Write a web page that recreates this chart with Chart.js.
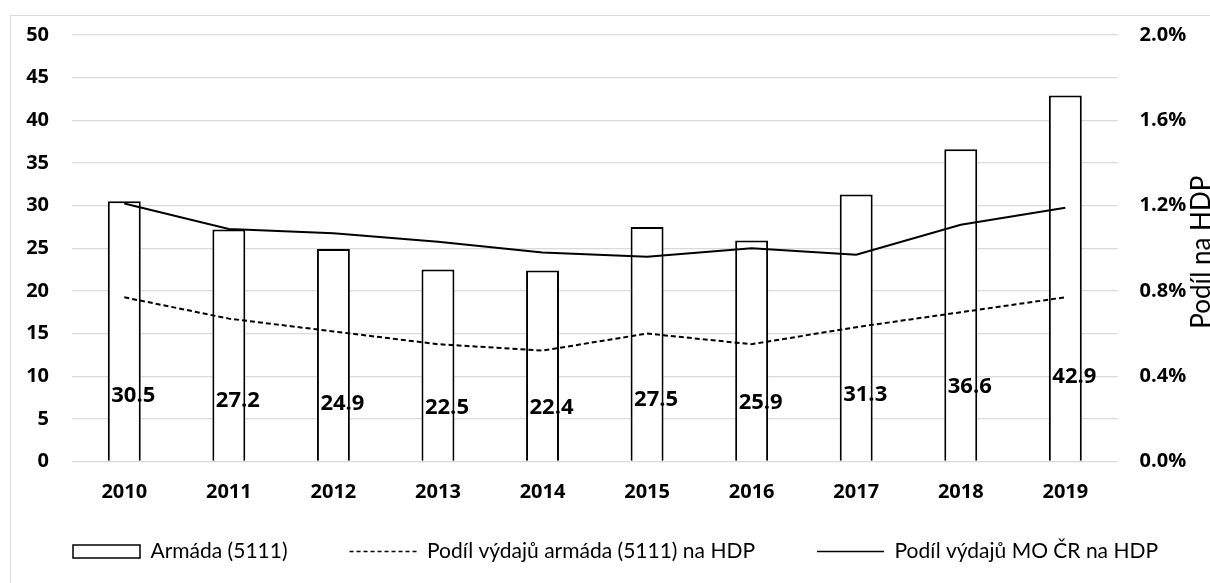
<!DOCTYPE html>
<html>
<head>
<meta charset="utf-8">
<script src="https://cdn.jsdelivr.net/npm/chart.js@4/dist/chart.umd.min.js"></script>
<style>
html,body{margin:0;padding:0;background:#fff;}
#wrap{position:relative;width:1210px;height:583px;overflow:hidden;}
canvas{display:block;}
</style>
</head>
<body>
<div id="wrap"><canvas id="c" width="1210" height="583"></canvas></div>
<script>
// ---- data ----
const years = ['2010','2011','2012','2013','2014','2015','2016','2017','2018','2019'];
const armada = [30.5, 27.2, 24.9, 22.5, 22.4, 27.5, 25.9, 31.3, 36.6, 42.9];
const podilArmada = [0.77, 0.67, 0.61, 0.55, 0.52, 0.60, 0.55, 0.63, 0.70, 0.77];
const podilMO = [1.21, 1.09, 1.07, 1.03, 0.98, 0.96, 1.00, 0.97, 1.11, 1.19];
const seriesNames = ['Armáda (5111)', 'Podíl výdajů armáda (5111) na HDP', 'Podíl výdajů MO ČR na HDP'];
const leftAxisRange = [0, 50, 5];
const rightAxisRange = [0, 2.0, 0.4];
const rightAxisTitle = 'Podíl na HDP';

const REG = 'Lato, "Open Sans", sans-serif';
const BOLD = '"Open Sans", Roboto, sans-serif';
Chart.defaults.font.family = REG;
Chart.defaults.color = '#000';
const boldFont = (size) => ({ family: BOLD, size: size, weight: 'bold' });

const frame = {
  id: 'frame',
  beforeDraw(chart) {
    const ctx = chart.ctx;
    ctx.save();
    ctx.strokeStyle = '#d9d9d9';
    ctx.lineWidth = 1;
    ctx.strokeRect(10.5, 15.5, 1400, 800);
    ctx.restore();
  }
};

// legend: fixed height in layout, then its box is enlarged so that
// the items (offset by the wide horizontal spacing) stay on one row, unclipped
const legendFix = {
  id: 'legendFix',
  afterInit(chart) {
    const lg = chart.legend;
    if (!lg) return;
    const orig = lg.fit.bind(lg);
    lg.fit = function() { orig(); this.height = 58; };
  },
  afterLayout(chart) {
    const lg = chart.legend;
    if (!lg) return;
    lg.top = 479;
    lg.bottom = chart.height;
    lg.height = lg.bottom - lg.top;
    lg.right = chart.width + 300;
    lg.width = lg.right - lg.left;
  }
};

const extras = {
  id: 'extras',
  afterDatasetsDraw(chart) {
    const ctx = chart.ctx;
    const y = chart.scales.y;
    const meta = chart.getDatasetMeta(0);
    ctx.save();
    ctx.font = 'bold 22px ' + BOLD;
    ctx.fillStyle = '#000';
    ctx.textAlign = 'center';
    ctx.textBaseline = 'middle';
    meta.data.forEach((bar, i) => {
      const v = armada[i];
      ctx.fillText(v.toFixed(1), bar.x + 9, y.getPixelForValue(2.32 + 0.1775 * v));
    });
    ctx.restore();
  },
  afterDraw(chart) {
    const ctx = chart.ctx;
    const a = chart.chartArea;
    ctx.save();
    ctx.font = '26px ' + REG;
    ctx.fillStyle = '#000';
    ctx.textAlign = 'center';
    ctx.textBaseline = 'alphabetic';
    ctx.translate(1210, (a.top + a.bottom) / 2 + 4);
    ctx.rotate(-Math.PI / 2);
    ctx.fillText(rightAxisTitle, 0, 0);
    ctx.restore();
  }
};

new Chart(document.getElementById('c'), {
  data: {
    labels: years,
    datasets: [
      {
        type: 'bar', label: seriesNames[0], data: armada, yAxisID: 'y', order: 2,
        backgroundColor: '#ffffff', borderColor: '#000', borderWidth: 2,
        barPercentage: 0.315, categoryPercentage: 1
      },
      {
        type: 'line', label: seriesNames[1], data: podilArmada, yAxisID: 'y1', order: 1,
        borderColor: '#000', borderWidth: 2, borderDash: [5, 3], pointRadius: 0, tension: 0, fill: false
      },
      {
        type: 'line', label: seriesNames[2], data: podilMO, yAxisID: 'y1', order: 0,
        borderColor: '#000', borderWidth: 2, pointRadius: 0, tension: 0, fill: false
      }
    ]
  },
  options: {
    responsive: false,
    animation: false,
    devicePixelRatio: 1,
    layout: { padding: { left: 11, top: 30, right: 0, bottom: 0 } },
    scales: {
      x: {
        grid: { display: false, drawTicks: false },
        border: { display: false },
        ticks: { font: boldFont(20), padding: 19, color: '#000' },
        afterFit(s) { s.height = 63.5; }
      },
      y: {
        position: 'left',
        min: leftAxisRange[0], max: leftAxisRange[1],
        ticks: { stepSize: leftAxisRange[2], font: boldFont(20), padding: 23, color: '#000' },
        grid: { color: '#d9d9d9', lineWidth: 1.3, drawTicks: false },
        border: { display: false },
        afterFit(s) { s.width = 61; }
      },
      y1: {
        position: 'right',
        min: rightAxisRange[0], max: rightAxisRange[1],
        ticks: { stepSize: rightAxisRange[2], font: boldFont(20), padding: 22, color: '#000',
                 callback: v => Number(v).toFixed(1) + '%' },
        grid: { display: false, drawTicks: false },
        border: { display: false },
        afterFit(s) { s.width = 92.4; }
      }
    },
    plugins: {
      tooltip: { enabled: false },
      legend: {
        position: 'bottom',
        align: 'start',
        labels: {
          font: { size: 21, family: REG },
          color: '#000',
          usePointStyle: true,
          pointStyleWidth: 67,
          boxHeight: 13,
          padding: 62,
          generateLabels() {
            return [
              { text: seriesNames[0], fillStyle: '#fff', strokeStyle: '#000', lineWidth: 1.5, pointStyle: 'rect', datasetIndex: 0, hidden: false },
              { text: seriesNames[1], fillStyle: 'rgba(0,0,0,0)', strokeStyle: '#000', lineWidth: 1.5, lineDash: [4, 3], pointStyle: 'line', datasetIndex: 1, hidden: false },
              { text: seriesNames[2], fillStyle: 'rgba(0,0,0,0)', strokeStyle: '#000', lineWidth: 1.5, pointStyle: 'line', datasetIndex: 2, hidden: false }
            ];
          }
        }
      }
    }
  },
  plugins: [frame, legendFix, extras]
});
</script>
</body>
</html>
